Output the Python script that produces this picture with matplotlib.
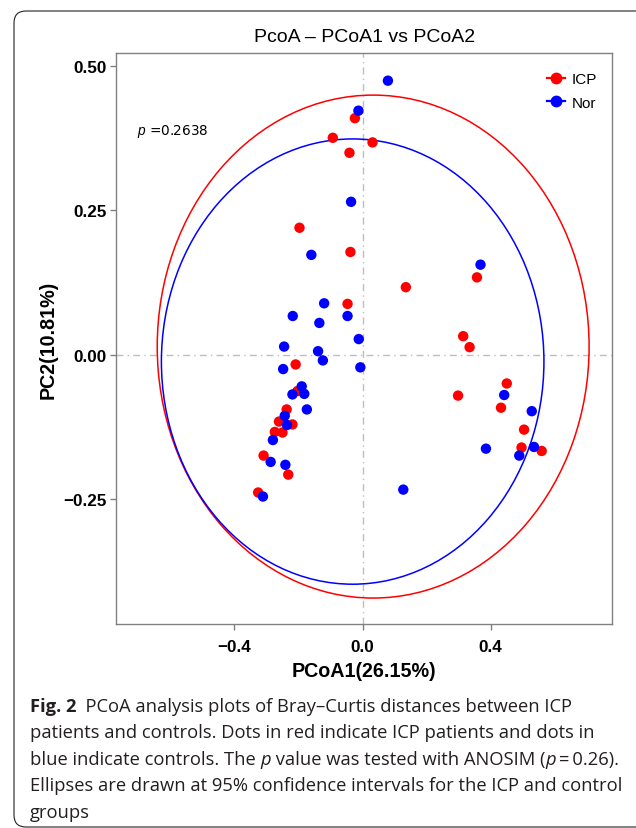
import numpy as np
import matplotlib.pyplot as plt
from matplotlib.patches import Ellipse, FancyBboxPatch
from matplotlib.lines import Line2D

plt.rcParams['mathtext.fontset'] = 'custom'
plt.rcParams['mathtext.it'] = 'Liberation Sans:italic'
plt.rcParams['mathtext.rm'] = 'Liberation Sans'

groups = ["ICP", "Nor"]
colors = ["#FF0000", "#0000FF"]

icp_pc1 = [-0.024, -0.093, 0.031, -0.041, -0.197, -0.038, 0.135, -0.047, -0.209,
           -0.203, -0.237, -0.261, -0.219, -0.274, -0.250, -0.309, -0.232, -0.326,
           0.357, 0.314, 0.334, 0.450, 0.298, 0.432, 0.504, 0.496, 0.559]
icp_pc2 = [0.410, 0.376, 0.368, 0.350, 0.220, 0.178, 0.117, 0.088, -0.017,
           -0.063, -0.095, -0.116, -0.121, -0.134, -0.135, -0.175, -0.208, -0.239,
           0.134, 0.032, 0.013, -0.050, -0.071, -0.092, -0.130, -0.161, -0.167]

nor_pc1 = [0.079, -0.013, -0.036, -0.160, -0.120, -0.218, -0.047, -0.135, -0.012,
           -0.245, -0.139, -0.124, -0.007, -0.248, -0.190, -0.182, -0.219, -0.174,
           -0.243, -0.236, -0.280, -0.287, -0.241, -0.311, 0.127, 0.368, 0.442,
           0.528, 0.385, 0.535, 0.489]
nor_pc2 = [0.475, 0.423, 0.265, 0.173, 0.089, 0.067, 0.067, 0.055, 0.027,
           0.014, 0.006, -0.010, -0.022, -0.025, -0.055, -0.068, -0.069, -0.095,
           -0.106, -0.122, -0.148, -0.186, -0.191, -0.246, -0.234, 0.156, -0.070,
           -0.098, -0.163, -0.160, -0.175]

# 95% confidence ellipses (centre, full width, full height) per group
ell_cx = [0.033, -0.031]
ell_cy = [0.014, -0.012]
ell_w = [1.348, 1.194]
ell_h = [0.872, 0.772]

p_value = 0.2638
pc1_pct = 26.15
pc2_pct = 10.81

W, H = 636, 829
fig = plt.figure(figsize=(W / 100, H / 100), dpi=100)

# rounded frame around the figure panel
frame = FancyBboxPatch((0.14, 0.01), 7.0, 8.16, boxstyle="round,pad=0,rounding_size=0.12",
                       transform=fig.dpi_scale_trans, fill=False, edgecolor="#222222", lw=0.8)
fig.patches.append(frame)

ax = fig.add_axes([116 / W, 1 - 625 / H, (612.3 - 116) / W, (625 - 54) / H])

ax.axhline(0, color="#BDBDBD", lw=1.0, ls=(0, (5, 3, 1, 3)), zorder=0)
ax.axvline(0, color="#BDBDBD", lw=1.0, ls=(0, (5, 3, 1, 3)), zorder=0)

pc1 = [icp_pc1, nor_pc1]
pc2 = [icp_pc2, nor_pc2]
for i, g in enumerate(groups):
    ax.scatter(pc1[i], pc2[i], s=56, color=colors[i], edgecolors="none", zorder=3)
    ax.add_patch(Ellipse((ell_cx[i], ell_cy[i]), ell_w[i], ell_h[i], fill=False,
                         edgecolor=colors[i], lw=1.1, zorder=2))

ax.set_xlim(-0.7697, 0.7794)
ax.set_ylim(-0.467, 0.523)
ax.set_xticks([-0.4, 0.0, 0.4])
ax.set_xticklabels(["\u22120.4", "0.0", "0.4"])
ax.set_yticks([-0.25, 0.0, 0.25, 0.5])
ax.set_yticklabels(["\u22120.25", "0.00", "0.25", "0.50"])

for sp in ax.spines.values():
    sp.set_color("#808080")
    sp.set_linewidth(1.0)
ax.tick_params(length=4, width=1, color="#808080", pad=3)
ax.tick_params(axis="x", pad=7)
for lab in ax.get_xticklabels() + ax.get_yticklabels():
    lab.set_fontfamily("Liberation Sans")
    lab.set_fontweight("bold")
    lab.set_fontsize(12.3)

ax.set_xlabel(f"PCoA1({pc1_pct:.2f}%)", fontfamily="Liberation Sans", fontweight="bold",
              fontsize=14.2, labelpad=5)
ax.set_ylabel(f"PC2({pc2_pct:.2f}%)", fontfamily="Liberation Sans", fontweight="bold",
              fontsize=14.2, labelpad=4)
ax.set_title("PcoA \u2013 PCoA1 vs PCoA2", fontfamily="Liberation Sans", fontsize=14,
             pad=9)

ax.text(-0.705, 0.388, f"$p$ ={p_value:.4f}", fontsize=9.8, va="center", ha="left")

handles = [Line2D([], [], color=c, marker="o", ms=7.5, lw=1.6) for c in colors]
ax.legend(handles, groups, loc="upper left", bbox_to_anchor=(0.868, 0.966), frameon=False,
          borderpad=0, borderaxespad=0, handlelength=1.2, handletextpad=0.45,
          labelspacing=0.6, prop={"family": "Liberation Sans", "size": 11})

# caption under the panel
cap_font = ["Open Sans", "DejaVu Sans"]
cap_size = 13.2
renderer = fig.canvas.get_renderer()


def caption_line(y_px, parts, x_px=30):
    x = x_px / W
    for s, kw in parts:
        t = fig.text(x, 1 - y_px / H, s, family=cap_font, fontsize=cap_size,
                     va="baseline", ha="left", color="#231F20", **kw)
        x += t.get_window_extent(renderer=renderer).width / fig.bbox.width


normal = {}
bold = {"fontweight": "bold"}
ital = {"fontstyle": "italic"}
caption_line(712.0, [("Fig. 2", bold), ("  PCoA analysis plots of Bray\u2013Curtis distances between ICP", normal)])
caption_line(738.5, [("patients and controls. Dots in red indicate ICP patients and dots in", normal)])
caption_line(765.0, [("blue indicate controls. The ", normal), ("p", ital),
                     (" value was tested with ANOSIM (", normal), ("p", ital),
                     ("\u2009=\u20090.26).", normal)])
caption_line(791.5, [("Ellipses are drawn at 95% confidence intervals for the ICP and control", normal)])
caption_line(818.0, [("groups", normal)])

fig.savefig("out.png", dpi=100)
